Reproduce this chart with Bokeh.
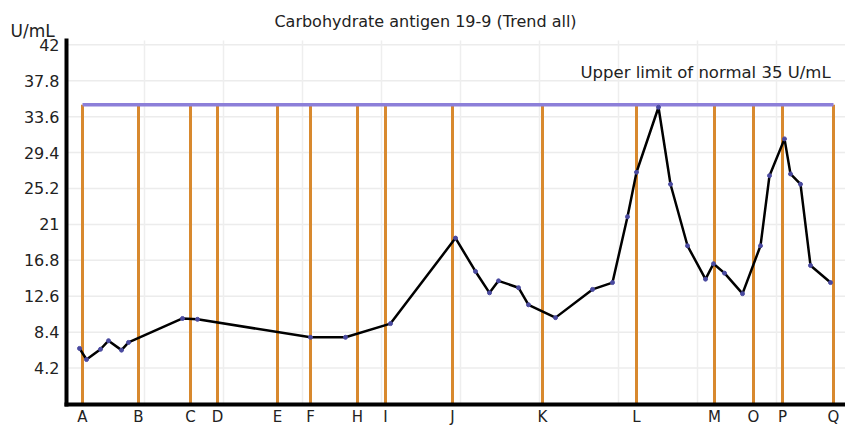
from bokeh.plotting import figure
from bokeh.models import Range1d, FixedTicker, Label
from bokeh.embed import file_html
from bokeh.resources import INLINE
import numpy as np

# ---- data ----
# measurement times (arbitrary time units) and CA19-9 values (U/mL)
t_values = [13, 20, 34, 42, 55, 62, 116, 131, 244, 279, 324, 389, 409, 423, 432,
            452, 462, 489, 526, 546, 561, 570, 592, 604, 621, 639, 647, 658, 676,
            694, 703, 718, 724, 734, 744, 764]
ca199 = [6.5, 5.2, 6.4, 7.4, 6.3, 7.2, 10.0, 9.9, 7.8, 7.8, 9.4, 19.4, 15.5, 13.0,
         14.4, 13.6, 11.6, 10.1, 13.4, 14.2, 21.9, 27.1, 34.7, 25.7, 18.5, 14.6,
         16.4, 15.3, 12.9, 18.5, 26.7, 31.0, 26.9, 25.7, 16.2, 14.2]

# event markers (orange vertical lines) and their letters
event_t = [16, 72, 124, 151, 211, 244, 291, 319, 386, 476, 570, 648, 687, 716, 767]
event_labels = ["A", "B", "C", "D", "E", "F", "H", "I", "J", "K", "L", "M", "O", "P", "Q"]

upper_limit = 35
y_ticks = [4.2, 8.4, 12.6, 16.8, 21, 25.2, 29.4, 33.6, 37.8, 42]
y_tick_labels = ["4.2", "8.4", "12.6", "16.8", "21", "25.2", "29.4", "33.6", "37.8", "42"]

FONT = "DejaVu Sans"
TXT = "#222222"

# plotting window in data units
T_MAX = 779
Y_MAX = 42.5

p = figure(width=845, height=426, output_backend="svg", toolbar_location=None,
           x_range=Range1d(-66, T_MAX), y_range=Range1d(-2.63, 47.18),
           min_border=0)
p.outline_line_color = None
p.background_fill_color = "white"
p.xgrid.visible = False
p.ygrid.visible = False

# axes drawn at data origin
for ax in (p.xaxis, p.yaxis):
    ax.fixed_location = 0
    ax.axis_line_width = 4
    ax.axis_line_color = "black"
    ax.axis_line_cap = "square"
    ax.major_tick_line_color = None
    ax.minor_tick_line_color = None
    ax.major_tick_in = 0
    ax.major_tick_out = 0
    ax.minor_tick_in = 0
    ax.minor_tick_out = 0
    ax.major_label_text_font = FONT
    ax.major_label_text_color = TXT

p.yaxis.bounds = (0, Y_MAX)
p.yaxis.ticker = FixedTicker(ticks=y_ticks)
p.yaxis.major_label_overrides = {t: s for t, s in zip(y_ticks, y_tick_labels)}
p.yaxis.major_label_standoff = 7
p.yaxis.major_label_text_font_size = "16px"

p.xaxis.bounds = (0, T_MAX)
p.xaxis.ticker = FixedTicker(ticks=event_t)
p.xaxis.major_label_overrides = {t: s for t, s in zip(event_t, event_labels)}
p.xaxis.major_label_standoff = 4
p.xaxis.major_label_text_font_size = "15px"

# light grid
grid_x = list(np.arange(78, T_MAX, 79))
p.segment(x0=[0] * len(y_ticks), y0=y_ticks, x1=[T_MAX] * len(y_ticks), y1=y_ticks,
          line_color="#ececec", line_width=1.5, level="underlay")
p.segment(x0=grid_x, y0=[0] * len(grid_x), x1=grid_x, y1=[Y_MAX] * len(grid_x),
          line_color="#eeeeee", line_width=1.5, level="underlay")

# orange event lines
p.segment(x0=event_t, y0=[0] * len(event_t), x1=event_t, y1=[upper_limit] * len(event_t),
          line_color="#D8892E", line_width=3)

# upper limit line
p.line(x=[event_t[0], event_t[-1]], y=[upper_limit, upper_limit],
       line_color="#8C7FD9", line_width=3.5)

# trend line
p.line(x=t_values, y=ca199, line_color="black", line_width=2.5)
p.scatter(x=t_values, y=ca199, size=4, fill_color="#4a4aa0", line_color="#4a4aa0")

# texts
p.add_layout(Label(x=359, y=44.72, text="Carbohydrate antigen 19-9 (Trend all)",
                   text_font=FONT, text_font_size="16px", text_color=TXT,
                   text_align="center", text_baseline="middle"))
p.add_layout(Label(x=514, y=38.8, text="Upper limit of normal 35 U/mL",
                   text_font=FONT, text_font_size="16.5px", text_color=TXT,
                   text_baseline="middle"))
p.add_layout(Label(x=-56, y=43.67, text="U/mL",
                   text_font=FONT, text_font_size="17px", text_color=TXT,
                   text_baseline="middle"))

open("out.html", "w").write(file_html(p, INLINE))
